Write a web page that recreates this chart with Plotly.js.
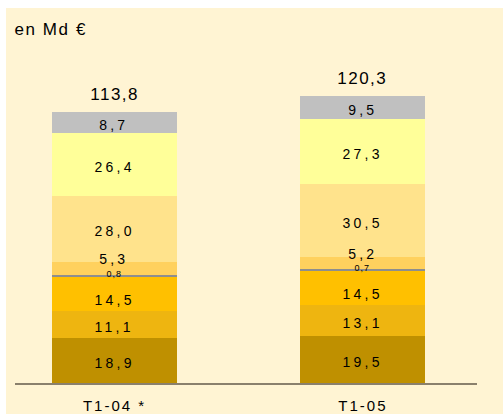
<!DOCTYPE html>
<html><head><meta charset="utf-8">
<script src="https://cdn.plot.ly/plotly-3.0.1.min.js"></script>
<style>
html,body{margin:0;padding:0;background:#fff;}
#chart{width:503px;height:414px;}
.xtick text{letter-spacing:2px;}
</style>
</head><body><div id="chart"></div>
<script>
const categories = ['T1-04 *', 'T1-05'];
const seriesNames = ['s1', 's2', 's3', 's4', 's5', 's6', 's7', 's8'];
const seriesValues = [
  [18.9, 19.5],
  [11.1, 13.1],
  [14.5, 14.5],
  [0.8, 0.7],
  [5.3, 5.2],
  [28.0, 30.5],
  [26.4, 27.3],
  [8.7, 9.5]
];
const totals = [113.8, 120.3];
const seriesColors = ['#BF9000', '#EEB510', '#FFC000', '#8E8E8E', '#FFD15E', '#FFE38C', '#FFFF99', '#C0C0C0'];

const fmt = v => v.toFixed(1).replace('.', ',');
const xs = [0, 1];
const FONT = 'Liberation Sans, Arial, sans-serif';

const traces = seriesValues.map((vals, i) => ({
  type: 'bar', name: seriesNames[i], x: xs, y: vals,
  width: 0.503, marker: {color: seriesColors[i], line: {width: 0}},
  hoverinfo: 'skip'
}));

const annotations = [];
const spacing = {};
xs.forEach((x, c) => {
  let base = 0;
  seriesValues.forEach((vals, i) => {
    const v = vals[c];
    let y = base + v / 2, size = 14, yshift = -2.5;
    if (i === 4) { y = base + v; yshift = 3; }
    else if (i === 3) { y = base + v; size = 9; yshift = 1; }
    else if (i === 2) { yshift = -6; }
    spacing[annotations.length] = i === 3 ? '1px' : '3.2px';
    annotations.push({x: x, y: y, xref: 'x', yref: 'y', text: fmt(v), showarrow: false,
      yshift: yshift, font: {size: size, color: '#000', family: FONT}});
    base += v;
  });
  spacing[annotations.length] = '1.5px';
  annotations.push({x: x, y: totals[c], xref: 'x', yref: 'y', text: fmt(totals[c]), showarrow: false,
    yanchor: 'bottom', yshift: 6, font: {size: 17, color: '#000', family: FONT}});
});
spacing[annotations.length] = '1.6px';
annotations.push({x: 0.006, y: 1.0, xref: 'paper', yref: 'paper', xanchor: 'left', yanchor: 'top',
  yshift: -10, text: 'en Md €', showarrow: false, font: {size: 17, color: '#000', family: FONT}});

const layout = {
  width: 503, height: 414,
  margin: {l: 15, r: 26, t: 8, b: 31, pad: 0},
  paper_bgcolor: '#ffffff', plot_bgcolor: 'rgba(0,0,0,0)',
  barmode: 'stack', showlegend: false,
  font: {family: FONT, color: '#000'},
  xaxis: {type: 'linear', range: [-0.4004, 1.459], tickvals: xs, ticktext: categories,
    showgrid: false, zeroline: false, showline: true, linecolor: 'rgba(60,50,40,0.6)', linewidth: 2,
    ticks: '', ticklabelstandoff: 8, tickfont: {size: 15, color: '#000'}, fixedrange: true},
  yaxis: {range: [0, 157.2], visible: false, showgrid: false, zeroline: false, fixedrange: true},
  shapes: [{type: 'rect', xref: 'paper', yref: 'paper', x0: -0.0195, x1: 1.06, y0: -0.09, y1: 1,
    fillcolor: '#FFF4D3', line: {width: 0}, layer: 'below'}],
  annotations: annotations
};

Plotly.newPlot('chart', traces, layout, {staticPlot: true, displayModeBar: false}).then(gd => {
  gd.querySelectorAll('g.annotation').forEach(g => {
    const idx = +g.getAttribute('data-index');
    if (spacing[idx]) {
      g.querySelectorAll('text').forEach(t => { t.style.letterSpacing = spacing[idx]; });
    }
  });
});
</script>
</body></html>
